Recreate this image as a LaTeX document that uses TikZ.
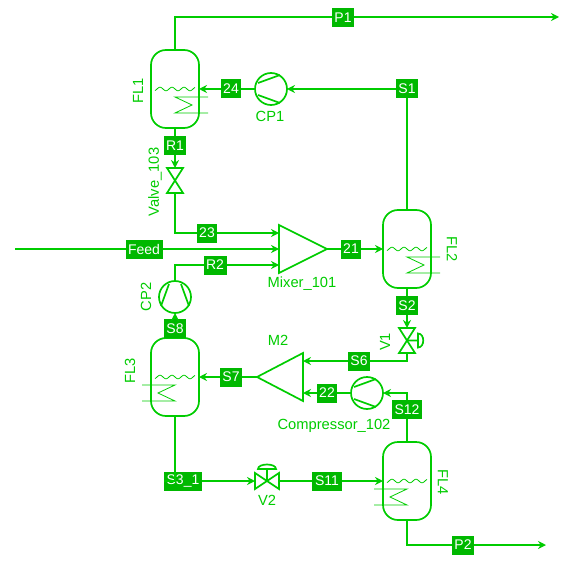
\documentclass[tikz,border=0pt]{standalone}
\usepackage{fontspec}
\setmainfont{Liberation Sans}
\usepackage{xcolor}
\usetikzlibrary{arrows.meta, positioning, calc}
\definecolor{flowgreen}{RGB}{0,204,0}
\definecolor{taggreen}{RGB}{0,184,0}

\begin{document}
\begin{tikzpicture}[
    x=1pt, y=-1pt,
    font=\fontsize{14}{16}\selectfont,
    >={Stealth[length=8pt, width=8pt]},
    stream/.style={draw=flowgreen, line width=1.7pt},
    flow/.style={stream, ->},
    equip/.style={draw=flowgreen, line width=1.7pt, line join=miter},
    fine/.style={draw=flowgreen, line width=0.8pt},
    tag/.style={fill=taggreen, text=white, inner sep=0pt, outer sep=0pt, minimum width=#1, minimum height=19pt},
    tag/.default=22pt,
    vessel/.style={equip, rounded corners=15pt, minimum width=48pt, minimum height=78pt, inner sep=0pt, outer sep=0pt},
    compressor/.style={equip, circle, minimum size=32pt, inner sep=0pt, outer sep=0pt},
    blank/.style n args={2}{inner sep=0pt, outer sep=0pt, minimum width=#1, minimum height=#2},
    caption/.style={text=flowgreen, inner sep=0pt, font=\fontsize{14.7}{16}\selectfont},
]
    \useasboundingbox (0,0) rectangle (560,564);

    % Top flash drum and its recycle
    \node[vessel] (FL1) at (175,89) {};
    \node[tag=20pt, right=22pt of FL1] (tag24) {24};
    \node[compressor, right=14pt of tag24] (CP1) {};
    \node[tag, right=109pt of CP1] (tagS1) {S1};
    \node[tag, below=8pt of FL1] (tagR1) {R1};
    \node[blank={16pt}{25pt}, below=13pt of tagR1] (Valve103) {};
    \node[tag] (tagP1) at (343,18) {P1};
    \coordinate (P1end) at (559,17);

    % Mixer and second drum
    \node[blank={48pt}{48pt}] (Mixer101) at (303,249) {};
    \node[tag=20pt] (tag23) at (207,233) {23};
    \node[tag=37pt] (tagFeed) at (144,249) {Feed};
    \node[tag=23pt] (tagR2) at (215,265) {R2};
    \coordinate (FeedIn) at (15,249);
    \node[tag=20pt, right=14pt of Mixer101] (tag21) {21};
    \node[vessel, right=22pt of tag21] (FL2) {};
    \node[tag, below=8pt of FL2] (tagS2) {S2};
    \node[blank={16pt}{25pt}, below=13pt of tagS2] (V1) {};
    \node[tag] (tagS6) at (359,361) {S6};

    % Third drum with the second mixer
    \node[blank={46pt}{48pt}] (M2) at (280,377) {};
    \node[tag, left=15pt of M2] (tagS7) {S7};
    \node[vessel, left=21pt of tagS7] (FL3) {};
    \node[tag, above=0pt of FL3] (tagS8) {S8};
    \node[compressor, above=6pt of tagS8] (CP2) {};
    \node[compressor] (Compressor102) at (367,393) {};
    \node[tag=20pt, left=14pt of Compressor102] (tag22) {22};

    % Bottom row
    \node[tag=38pt] (tagS3) at (183,481) {S3\_1};
    \node[blank={24pt}{16pt}, right=53pt of tagS3] (V2) {};
    \node[tag=30pt, right=33pt of V2] (tagS11) {S11};
    \node[vessel, right=41pt of tagS11] (FL4) {};
    \node[tag=30pt, above=23pt of FL4] (tagS12) {S12};
    \node[tag] (tagP2) at (463,545) {P2};
    \coordinate (P2end) at (546,545);

    % Mixers and valves
    \draw[equip] (Mixer101.north west) -- (Mixer101.east) -- (Mixer101.south west) -- cycle;
    \draw[equip] (M2.north east) -- (M2.west) -- (M2.south east) -- cycle;
    \foreach \vname in {Valve103, V1}
        \draw[equip] (\vname.north west) -- (\vname.south east) -- (\vname.south west) -- (\vname.north east) -- cycle;
    \draw[equip] (V2.north west) -- (V2.south east) -- (V2.north east) -- (V2.south west) -- cycle;
    \draw[equip, shift={(V1.center)}] (0,0) -- (11,0) (11,-7) .. controls (18,-7) and (18,7) .. (11,7) -- cycle;
    \draw[equip, shift={(V2.center)}] (0,0) -- (0,-12) (-9,-12) .. controls (-9,-18) and (9,-18) .. (9,-12) -- cycle;

    % Liquid level and coil inside the drums
    \foreach \vname/\side in {FL1/1, FL2/1, FL3/-1, FL4/-1} {
        \draw[fine, shift={(\vname.center)}] plot[domain=-20:20, samples=41, smooth] (\x, {1.8*sin(\x*30)});
        \draw[fine, shift={(\vname.center)}] (33*\side,8) -- (0,8) -- (17*\side,16) -- (0,24) -- (33*\side,24);
    }

    % Compressor wedges
    \foreach \cname/\rot in {CP1/0, Compressor102/0, CP2/-90}
        \draw[equip, shift={(\cname.center)}, rotate=\rot] (-13,-6) -- (9,-14) (-13,6) -- (9,14);

    % Streams
    \draw[stream] (FL1.north) |- (P1end -| tagP1.west);
    \draw[flow] (P1end -| tagP1.east) -- (P1end);
    \draw[stream] (FL2.north) -- (tagS1.south);
    \draw[flow] (tagS1.west) -- (CP1.east);
    \draw[stream] (CP1.west) -- (tag24.east);
    \draw[flow] (tag24.west) -- (FL1.east);
    \draw[stream] (FL1.south) -- (tagR1.north);
    \draw[flow] (tagR1.south) -- (Valve103.north);
    \draw[stream] (Valve103.south) |- (tag23.west);
    \draw[flow] (tag23.east) -- (tag23 -| Mixer101.west);
    \draw[stream] (FeedIn) -- (tagFeed.west);
    \draw[flow] (tagFeed.east) -- (tagFeed -| Mixer101.west);
    \draw[stream] (CP2.north) |- (tagR2.west);
    \draw[flow] (tagR2.east) -- (tagR2 -| Mixer101.west);
    \draw[flow] (tagS8.north) -- (CP2.south);
    \draw[stream] (Mixer101.east) -- (tag21.west);
    \draw[flow] (tag21.east) -- (FL2.west);
    \draw[stream] (FL2.south) -- (tagS2.north);
    \draw[flow] (tagS2.south) -- (V1.north);
    \draw[stream] (V1.south) |- (tagS6.east);
    \draw[flow] (tagS6.west) -- (tagS6 -| M2.east);
    \draw[stream] (M2.west) -- (tagS7.east);
    \draw[flow] (tagS7.west) -- (FL3.east);
    \draw[stream] (FL4.north) -- (tagS12.south);
    \draw[flow] (tagS12.north) |- (Compressor102.east);
    \draw[stream] (Compressor102.west) -- (tag22.east);
    \draw[flow] (tag22.west) -- (tag22 -| M2.east);
    \draw[stream] (FL3.south) |- (tagS3.west);
    \draw[flow] (tagS3.east) -- (V2.west);
    \draw[stream] (V2.east) -- (tagS11.west);
    \draw[flow] (tagS11.east) -- (FL4.west);
    \draw[stream] (FL4.south) |- (tagP2.west);
    \draw[flow] (tagP2.east) -- (P2end);

    % Equipment names
    \node[caption, rotate=90] (nameFL1) at (138,91) {FL1};
    \node[caption] (nameCP1) at (270,116) {CP1};
    \node[caption, rotate=90] (nameValve) at (155,182) {Valve\_103};
    \node[caption] (nameMixer) at (302,284) {Mixer\_101};
    \node[caption, rotate=90] (nameCP2) at (146,297) {CP2};
    \node[caption] (nameM2) at (278,340) {M2};
    \node[caption, rotate=-90] (nameFL2) at (452,249) {FL2};
    \node[caption, rotate=90] (nameV1) at (385,342) {V1};
    \node[caption, rotate=90] (nameFL3) at (130,371) {FL3};
    \node[caption, rotate=-90] (nameFL4) at (443,482) {FL4};
    \node[caption] (nameV2) at (267,500) {V2};
    \node[caption] (nameComp) at (334,426) {Compressor\_102};
\end{tikzpicture}
\end{document}
